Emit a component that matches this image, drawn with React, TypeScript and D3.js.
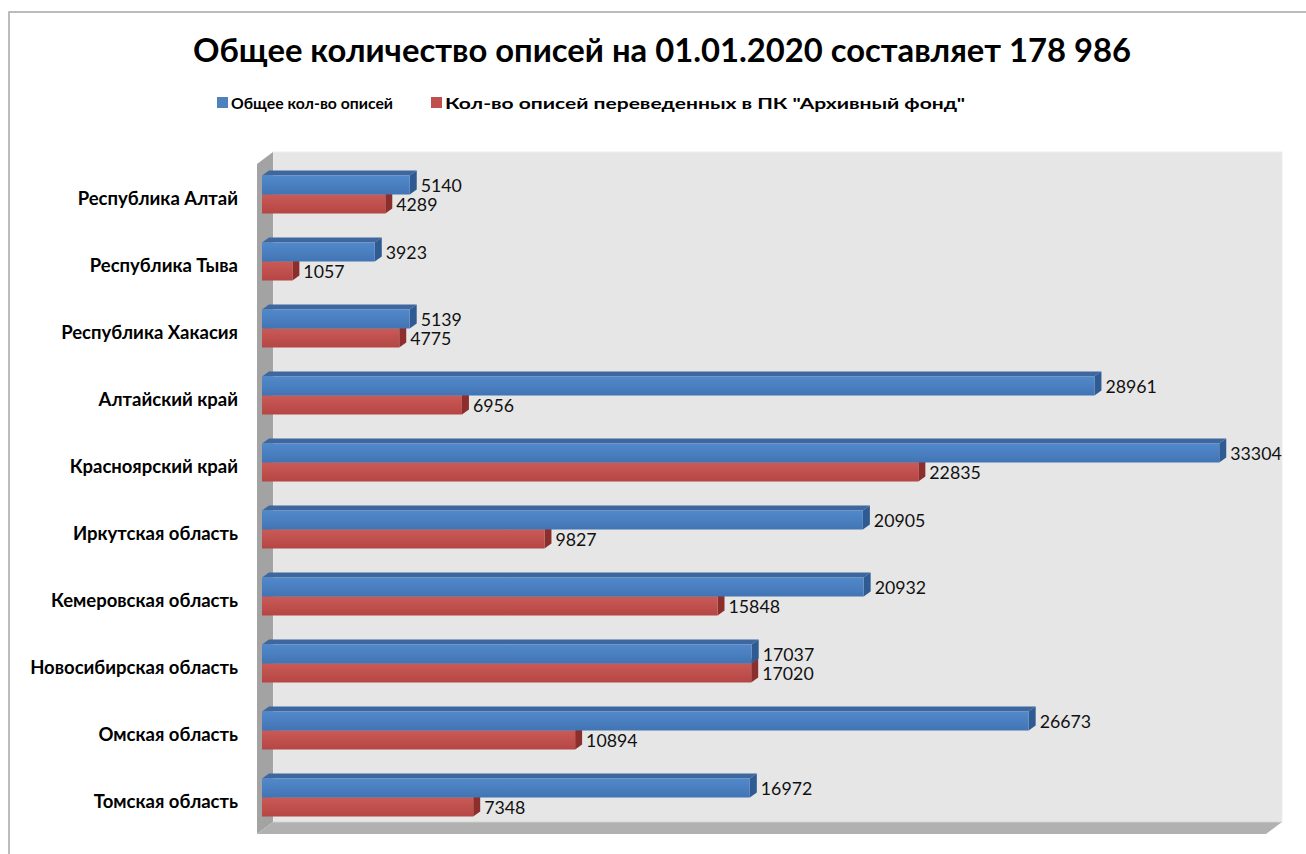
import React from "react";
import * as d3 from "d3";

const categories = [
  "Республика Алтай",
  "Республика Тыва",
  "Республика Хакасия",
  "Алтайский край",
  "Красноярский край",
  "Иркутская область",
  "Кемеровская область",
  "Новосибирская область",
  "Омская область",
  "Томская область",
];
const totalValues = [5140, 3923, 5139, 28961, 33304, 20905, 20932, 17037, 26673, 16972];
const convertedValues = [4289, 1057, 4775, 6956, 22835, 9827, 15848, 17020, 10894, 7348];
const seriesNames = ["Общее кол-во описей", "Кол-во описей переведенных в ПК \"Архивный фонд\""];
const titleText = "Общее количество описей на 01.01.2020 составляет 178 986";

const W = 1306;
const H = 854;
const FONT = "Lato, 'Open Sans', sans-serif";

export default function App() {
  // wall geometry
  const backL = 273, backR = 1282, backT = 152, backB = 822;
  const depthX = -16, depthY = 12;
  const frontT = backT + depthY, frontB = backB + depthY;

  const x = d3.scaleLinear().domain([0, 35000]).range([262, 1268]);
  const y = d3.scaleBand<string>().domain(categories).range([frontT, frontB]).paddingInner(0);
  const barH = 19;
  const dx = 7, dy = -5;

  const series = [
    { name: seriesNames[0], values: totalValues, front: "url(#gBlue)", top: "#3d679e", side: "#2f5a92", legend: "#4f81bd" },
    { name: seriesNames[1], values: convertedValues, front: "url(#gRed)", top: "#9a3835", side: "#8c2f2c", legend: "#c0504d" },
  ];

  const bars: React.ReactNode[] = [];
  const labels: React.ReactNode[] = [];
  categories.forEach((c, i) => {
    const center = (y(c) as number) + y.bandwidth() / 2 - 3;
    // draw red first (lower), then blue so blue front covers red top
    [1, 0].forEach((si) => {
      const s = series[si];
      const v = s.values[i];
      const x0 = x(0);
      const x1 = x(v);
      const yy = si === 0 ? center - barH : center;
      bars.push(
        <g key={`b-${i}-${si}`}>
          <polygon
            points={`${x0},${yy} ${x0 + dx},${yy + dy} ${x1 + dx},${yy + dy} ${x1},${yy}`}
            fill={s.top}
          />
          <polygon
            points={`${x1},${yy} ${x1 + dx},${yy + dy} ${x1 + dx},${yy + barH + dy} ${x1},${yy + barH}`}
            fill={s.side}
          />
          <rect x={x0} y={yy} width={x1 - x0} height={barH} fill={s.front} />
        </g>
      );
      labels.push(
        <text
          key={`l-${i}-${si}`}
          x={x1 + 11}
          y={yy + barH / 2 + 1}
          dy="0.35em"
          fontFamily={FONT}
          fontSize={17}
          textLength={String(v).length * 10.3}
          lengthAdjust="spacingAndGlyphs"
          fill="#111"
        >
          {v}
        </text>
      );
    });
  });

  return (
    <svg
      width={W}
      height={H}
      style={{ position: "absolute", left: 0, top: 0, background: "#fff" }}
    >
      <defs>
        <linearGradient id="gBlue" x1="0" y1="0" x2="0" y2="1">
          <stop offset="0" stopColor="#5189cb" />
          <stop offset="0.5" stopColor="#4a7fc0" />
          <stop offset="1" stopColor="#4274b3" />
        </linearGradient>
        <linearGradient id="gRed" x1="0" y1="0" x2="0" y2="1">
          <stop offset="0" stopColor="#c85a57" />
          <stop offset="0.5" stopColor="#c0504d" />
          <stop offset="1" stopColor="#b44643" />
        </linearGradient>
      </defs>

      {/* outer chart border */}
      <path d={`M9,${H} L9,12 L${W},12`} fill="none" stroke="#a6a6a6" strokeWidth={1.5} />

      {/* title */}
      <text
        x={662}
        y={62}
        textAnchor="middle"
        fontFamily={FONT}
        fontWeight="bold"
        fontSize={32}
        textLength={938}
        lengthAdjust="spacingAndGlyphs"
        fill="#000"
      >
        {titleText}
      </text>

      {/* legend */}
      <rect x={217} y={97} width={11} height={11} fill={series[0].legend} />
      <text x={231} y={103} dy="0.35em" fontFamily={FONT} fontWeight="bold" fontSize={16}
        textLength={162} lengthAdjust="spacingAndGlyphs" fill="#000">
        {series[0].name}
      </text>
      <rect x={431} y={97} width={11} height={11} fill={series[1].legend} />
      <text x={445} y={103} dy="0.35em" fontFamily={FONT} fontWeight="bold" fontSize={16}
        textLength={520} lengthAdjust="spacingAndGlyphs" fill="#000">
        {series[1].name}
      </text>

      {/* walls */}
      <rect x={backL} y={backT} width={backR - backL} height={backB - backT} fill="#e6e6e6" stroke="#eeeeee" strokeWidth={1} />
      <polygon
        points={`${backL + depthX},${frontT} ${backL},${backT} ${backL},${backB} ${backL + depthX},${frontB}`}
        fill="#a3a3a3"
      />
      <polygon
        points={`${backL},${backB} ${backR},${backB} ${backR + depthX},${frontB} ${backL + depthX},${frontB}`}
        fill="#b1b1b1"
      />
      <line x1={backL} y1={backB} x2={backR} y2={backB} stroke="#d0d0d0" strokeWidth={1} />

      {/* category labels */}
      {categories.map((c) => (
        <text
          key={c}
          x={238}
          y={(y(c) as number) + y.bandwidth() / 2 + 1}
          dy="0.35em"
          textAnchor="end"
          fontFamily={FONT}
          fontWeight="bold"
          fontSize={18.5}
          fill="#000"
        >
          {c}
        </text>
      ))}

      {bars}
      {labels}
    </svg>
  );
}
